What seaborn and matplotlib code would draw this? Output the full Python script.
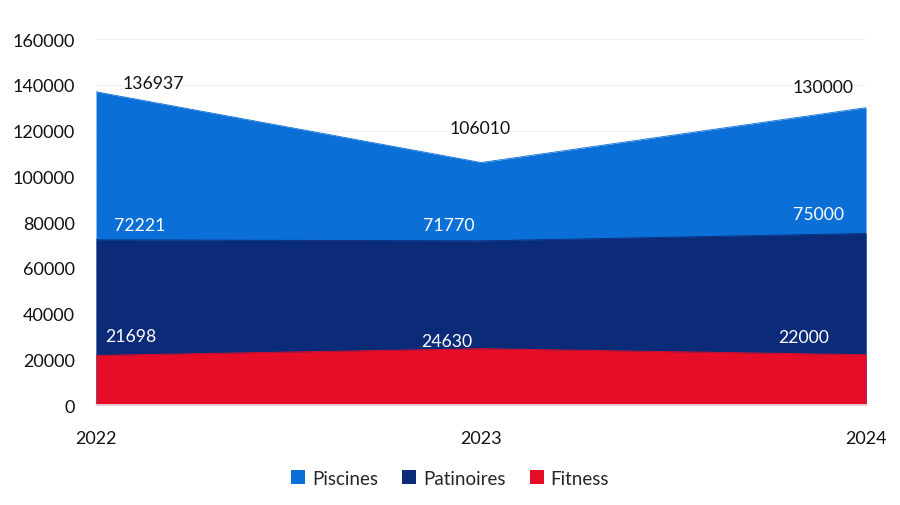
import matplotlib
matplotlib.use("Agg")
import matplotlib.pyplot as plt
import seaborn as sns
import pandas as pd
from matplotlib.patches import Patch

years = [2022, 2023, 2024]
piscines = [136937, 106010, 130000]
patinoires = [72221, 71770, 75000]
fitness = [21698, 24630, 22000]
y_ticks = [0, 20000, 40000, 60000, 80000, 100000, 120000, 140000, 160000]

series = ["Piscines", "Patinoires", "Fitness"]
colors = {"Piscines": "#0b6fd8", "Patinoires": "#0b2a78", "Fitness": "#e70d26"}

df = pd.DataFrame({"Année": years * 3,
                   "Valeur": piscines + patinoires + fitness,
                   "Série": [s for s in series for _ in years]})

sns.set_theme(style="white")
plt.rcParams["font.family"] = ["Lato", "DejaVu Sans"]

fig = plt.figure(figsize=(9, 5.06), dpi=100)
ax = fig.add_axes([0.1067, 0.1976, 0.8556, 0.7233])

# overlapping areas, the largest drawn first
for name in series:
    sub = df[df["Série"] == name]
    ax.fill_between(sub["Année"], 0, sub["Valeur"], color=colors[name], lw=0, zorder=2)
sns.lineplot(data=df, x="Année", y="Valeur", hue="Série", palette=colors,
             ax=ax, legend=False, lw=0.6, zorder=3)

ax.set_xlim(2022, 2024)
ax.set_ylim(0, 160000)
ax.set_yticks(y_ticks)
ax.set_yticklabels([str(v) for v in y_ticks], fontsize=13, color="#111111")
ax.set_xticks(years)
ax.set_xticklabels([str(y) for y in years], fontsize=13, color="#111111")
ax.tick_params(axis="y", length=0, pad=15)
ax.tick_params(axis="x", length=5, color="#d9d9d9", pad=13)
ax.grid(axis="y", color="#f2f2f2", lw=0.8, zorder=0)
for side in ["top", "right", "left"]:
    ax.spines[side].set_visible(False)
ax.spines["bottom"].set_color("#e6e6e6")
ax.set_xlabel("")
ax.set_ylabel("")

# value labels
offsets_top = [(57, 9), (-1, 35), (-43, 21)]
offsets_mid = [(44, 15), (-32, 16), (-48, 19)]
offsets_low = [(35, 19), (-34, 8), (-62, 18)]
for i, yr in enumerate(years):
    ax.annotate(str(piscines[i]), (yr, piscines[i]), xytext=offsets_top[i],
                textcoords="offset pixels", ha="center", va="center",
                fontsize=12.7, color="#111111", zorder=5, annotation_clip=False)
    ax.annotate(str(patinoires[i]), (yr, patinoires[i]), xytext=offsets_mid[i],
                textcoords="offset pixels", ha="center", va="center",
                fontsize=12.7, color="white", zorder=5)
    ax.annotate(str(fitness[i]), (yr, fitness[i]), xytext=offsets_low[i],
                textcoords="offset pixels", ha="center", va="center",
                fontsize=12.7, color="white", zorder=5)

handles = [Patch(facecolor=colors[s], edgecolor="none", label=s) for s in series]
fig.legend(handles=handles, loc="center", bbox_to_anchor=(0.5, 0.053), ncol=3,
           frameon=False, fontsize=13.5, handlelength=0.75, handleheight=0.75,
           handletextpad=0.35, columnspacing=1.3)

fig.savefig("out.png", dpi=100)
